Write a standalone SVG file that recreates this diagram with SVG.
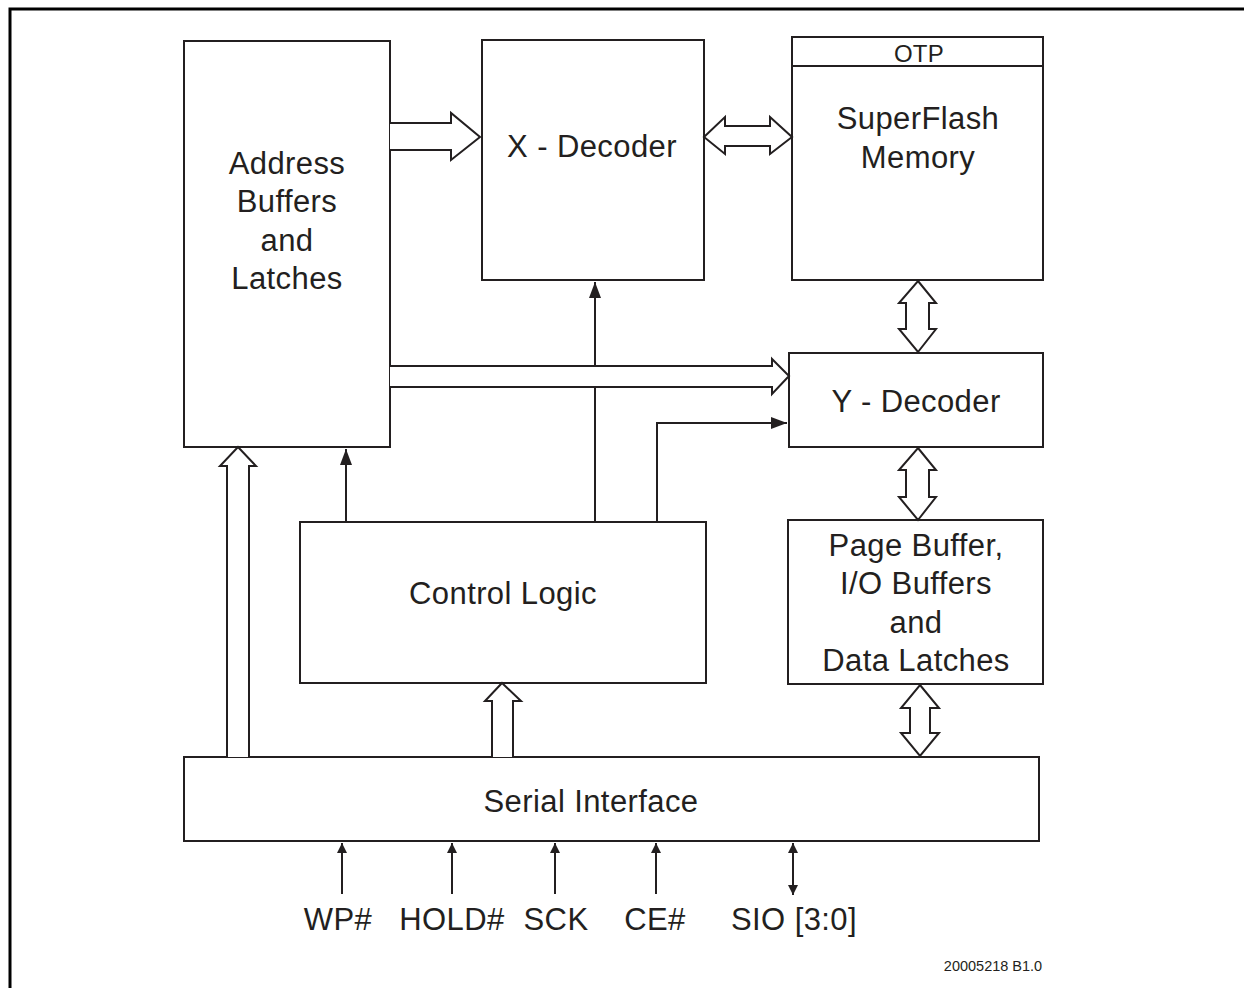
<svg xmlns="http://www.w3.org/2000/svg" width="1244" height="988" viewBox="0 0 1244 988">
<defs>
<style>
.box{fill:#fff;stroke:#231f20;stroke-width:2}
.ln{fill:none;stroke:#231f20;stroke-width:2}
.hol{fill:#fff;stroke:#231f20;stroke-width:2;stroke-linejoin:miter}
.t{font-family:"Liberation Sans",Arial,sans-serif;font-size:31px;letter-spacing:0.4px;fill:#231f20;text-anchor:middle}
.s{font-family:"Liberation Sans",Arial,sans-serif;font-size:24px;letter-spacing:0.3px;fill:#231f20;text-anchor:middle}
.n{font-family:"Liberation Sans",Arial,sans-serif;font-size:14.5px;fill:#231f20;text-anchor:middle}
</style>
<marker id="ah" viewBox="0 0 10 10" refX="10" refY="5" markerWidth="10" markerHeight="10" markerUnits="userSpaceOnUse" orient="auto-start-reverse">
<path d="M0,0 L10,5 L0,10 z" fill="#231f20"/>
</marker>
<marker id="ahb" viewBox="0 0 16 12" refX="16" refY="6" markerWidth="16" markerHeight="12" markerUnits="userSpaceOnUse" orient="auto-start-reverse">
<path d="M0,0 L16,6 L0,12 z" fill="#231f20"/>
</marker>
</defs>
<rect width="1244" height="988" fill="#fff"/>
<path d="M10,988 V9 H1244" fill="none" stroke="#000" stroke-width="3"/>

<g id="address">
<rect class="box" x="184" y="41" width="206" height="406"/>
<text class="t" x="287" y="174">Address</text>
<text class="t" x="287" y="212">Buffers</text>
<text class="t" x="287" y="251">and</text>
<text class="t" x="287" y="289">Latches</text>
</g>
<g id="xdecoder">
<rect class="box" x="482" y="40" width="222" height="240"/>
<text class="t" x="592" y="157">X - Decoder</text>
</g>
<g id="superflash">
<rect class="box" x="792" y="37" width="251" height="243"/>
<line class="ln" x1="792" y1="66" x2="1043" y2="66"/>
<text class="s" x="919" y="62">OTP</text>
<text class="t" x="918" y="129">SuperFlash</text>
<text class="t" x="918" y="168">Memory</text>
</g>
<g id="ydecoder">
<rect class="box" x="789" y="353" width="254" height="94"/>
<text class="t" x="916" y="412">Y - Decoder</text>
</g>
<g id="pagebuffer">
<rect class="box" x="788" y="520" width="255" height="164"/>
<text class="t" x="916" y="556">Page Buffer,</text>
<text class="t" x="916" y="594">I/O Buffers</text>
<text class="t" x="916" y="633">and</text>
<text class="t" x="916" y="671">Data Latches</text>
</g>
<g id="control">
<rect class="box" x="300" y="522" width="406" height="161"/>
<text class="t" x="503" y="604">Control Logic</text>
</g>
<g id="serial">
<rect class="box" x="184" y="757" width="855" height="84"/>
<text class="t" x="591" y="812">Serial Interface</text>
</g>

<g id="connectors">
<line class="ln" x1="595" y1="522" x2="595" y2="282" marker-end="url(#ahb)"/>
<polyline class="ln" points="657,522 657,423 787,423" marker-end="url(#ahb)"/>
<line class="ln" x1="346" y1="522" x2="346" y2="449" marker-end="url(#ahb)"/>
<path class="hol" d="M390,123 H451 V113 L480,137 L451,160 V150 H390"/>
<path class="hol" d="M704,137 L725,117 V126 H770 V117 L792,137 L770,154 V146 H725 V154 Z"/>
<path class="hol" d="M390,366 H772 V359 L789,376 L772,394 V387 H390"/>
<path class="hol" d="M227,757 V466 H220 L238,447 L256,466 H249 V757"/>
<path class="hol" d="M492,757 V701 H485 L502,683 L521,701 H513 V757"/>
<path class="hol" d="M918,281 L936,303 H929 V329 H936 L918,352 L899,329 H906 V303 H899 Z"/>
<path class="hol" d="M918,448 L936,470 H929 V497 H936 L918,520 L899,497 H906 V470 H899 Z"/>
<path class="hol" d="M920,685 L939,708 H930 V733 H939 L920,756 L901,733 H910 V708 H901 Z"/>
<line class="ln" x1="342" y1="894" x2="342" y2="843" marker-end="url(#ah)"/>
<line class="ln" x1="452" y1="894" x2="452" y2="843" marker-end="url(#ah)"/>
<line class="ln" x1="555" y1="894" x2="555" y2="843" marker-end="url(#ah)"/>
<line class="ln" x1="656" y1="894" x2="656" y2="843" marker-end="url(#ah)"/>
<line class="ln" x1="793" y1="895" x2="793" y2="843" marker-start="url(#ah)" marker-end="url(#ah)"/>
</g>

<g id="labels">
<text class="t" x="338" y="930">WP#</text>
<text class="t" x="452" y="930">HOLD#</text>
<text class="t" x="556" y="930">SCK</text>
<text class="t" x="655" y="930">CE#</text>
<text class="t" x="794" y="930">SIO [3:0]</text>
<text class="n" x="993" y="971">20005218 B1.0</text>
</g>
</svg>
